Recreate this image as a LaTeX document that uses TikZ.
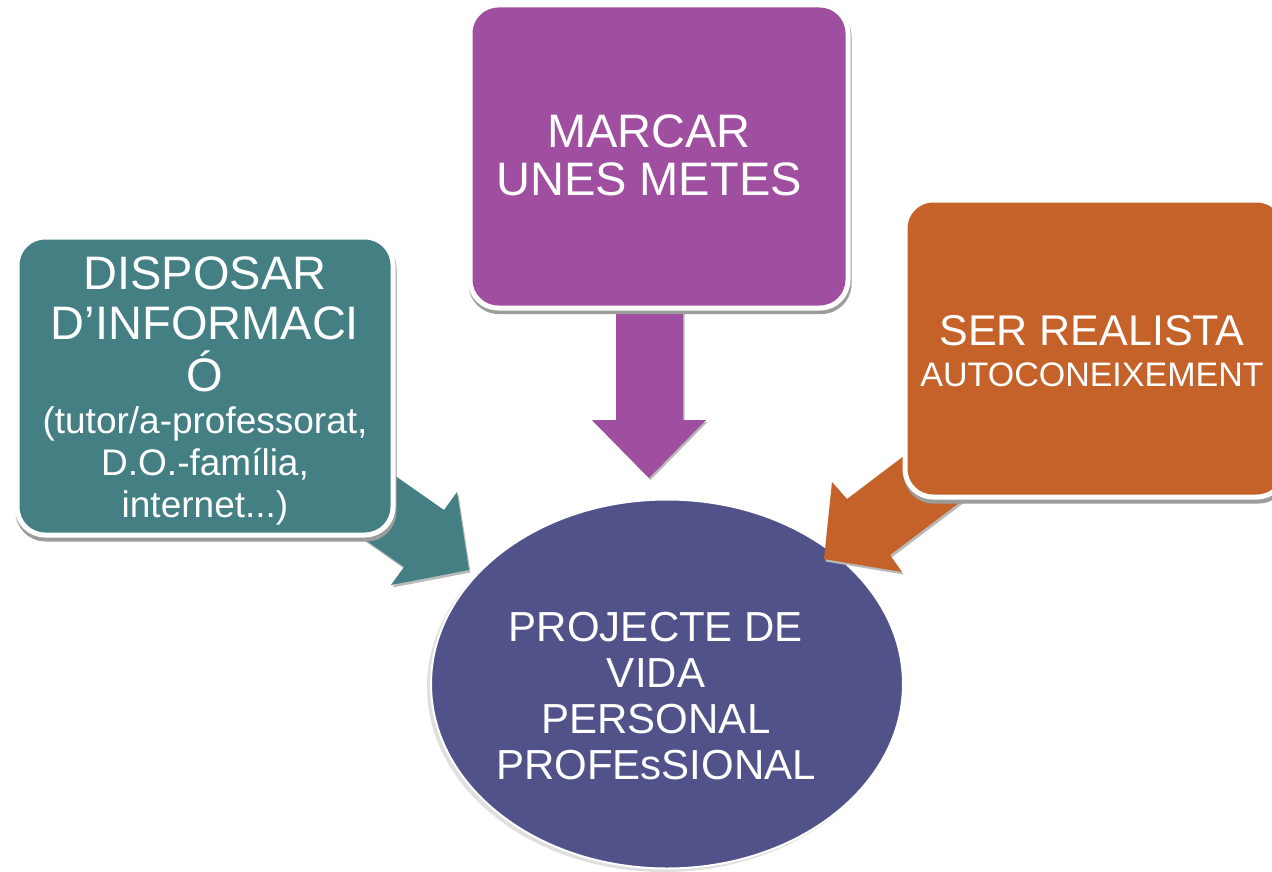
\documentclass[tikz,border=0pt]{standalone}
\usepackage{fontspec}
\setmainfont{Liberation Sans}
\usetikzlibrary{shapes.geometric}
\definecolor{cpurple}{HTML}{A04FA0}
\definecolor{cteal}{HTML}{437F83}
\definecolor{corange}{HTML}{C4622A}
\definecolor{cnavy}{HTML}{52528A}
\definecolor{cshade}{HTML}{9C9C9C}
\newcommand{\bigln}{\fontsize{47}{42}\selectfont}
\begin{document}
\begin{tikzpicture}[x=1pt,y=-1pt,
  box/.style={rectangle, rounded corners=28pt, draw=white, line width=5pt, inner sep=0pt},
  boxshadow/.style={rectangle, rounded corners=30pt, fill=cshade, draw=none, inner sep=0pt},
  arrowshadow/.style={fill=cshade!70},
  txt/.style={text=white, align=center, inner sep=0pt}
]
\useasboundingbox (0,0) rectangle (1272,872);

% central ellipse
\fill[gray!25] (664,687) ellipse [x radius=237, y radius=185];
\node[ellipse, fill=cnavy, draw=white, line width=2pt, minimum width=472pt, minimum height=369pt, inner sep=0pt] (proj) at (667,684) {};
\node[txt, font=\fontsize{42}{46}\selectfont] (projtxt) at (656,696) {PROJECTE DE\\VIDA\\PERSONAL\\PROFEsSIONAL};

% block arrows
\fill[arrowshadow] ([shift={(1.5,2)}]616,300) -- ++(0,120) -- ++(-24,0) -- ++(57,58) -- ++(57,-58) -- ++(-23,0) -- ++(0,-120) -- cycle;
\fill[cpurple] (616,300) -- (616,420) -- (592,420) -- (649,478) -- (706,420) -- (683,420) -- (683,300) -- cycle;

\begin{scope}[shift={(1.5,2.5)}]
\fill[arrowshadow] (321,424) -- (444,510) -- (457,492) -- (469,570) -- (391,585) -- (404,567) -- (281,481) -- cycle;
\fill[arrowshadow] (966,409) -- (847,499) -- (832,482) -- (824,559) -- (902,572) -- (890,555) -- (1008,466) -- cycle;
\end{scope}
\fill[cteal] (321,424) -- (444,510) -- (457,492) -- (469,570) -- (391,585) -- (404,567) -- (281,481) -- cycle;
\fill[corange] (966,409) -- (847,499) -- (832,482) -- (824,559) -- (902,572) -- (890,555) -- (1008,466) -- cycle;

% boxes
\node[boxshadow, minimum width=383pt, minimum height=308pt] at (660,160) {};
\node[box, fill=cpurple, minimum width=378pt, minimum height=303pt] (metes) at (659,156.5) {};
\node[txt, font=\fontsize{47}{48}\selectfont] (metestxt) at (649,155) {MARCAR\\UNES METES};

\node[boxshadow, minimum width=381pt, minimum height=303pt] at (206,390) {};
\node[box, fill=cteal, minimum width=376pt, minimum height=298pt] (info) at (205,386) {};
\node[txt, font={\fontsize{37}{42}\selectfont\lineskiplimit=-60pt}] (infotxt) at (205,391) {\bigln DISPOSAR\\[8pt]\bigln D’INFORMACI\\[10pt]\bigln Ó\\(tutor/a-professorat,\\D.O.-família,\\internet...)};

\node[boxshadow, minimum width=385pt, minimum height=302pt] at (1096,352.5) {};
\node[box, fill=corange, minimum width=380pt, minimum height=297pt] (realista) at (1095,348.5) {};
\node[txt, font={\fontsize{34}{41}\selectfont\lineskiplimit=-60pt}] (realistatxt) at (1092,351) {\fontsize{43}{41}\selectfont SER REALISTA\\AUTOCONEIXEMENT};
\end{tikzpicture}
\end{document}
